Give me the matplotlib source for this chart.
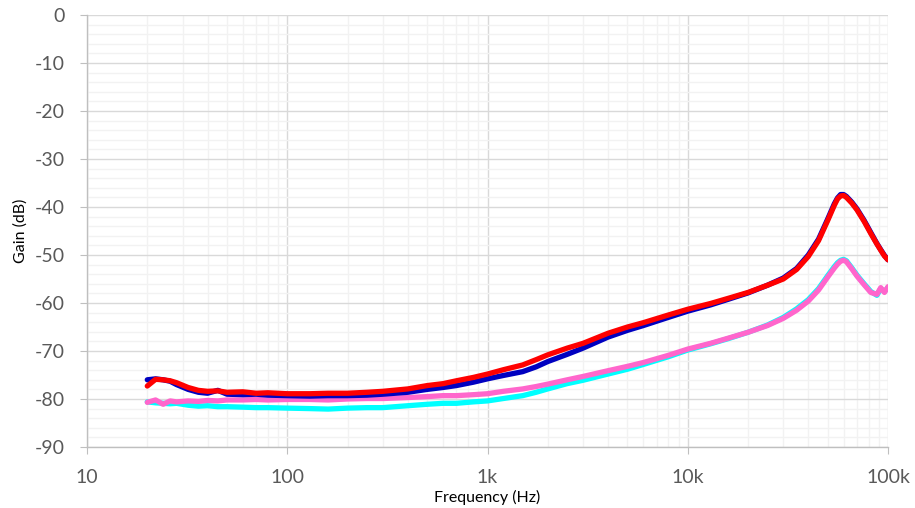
import matplotlib.pyplot as plt
from matplotlib.ticker import FixedLocator, NullFormatter

# frequency points (Hz)
freq = [20, 22, 24, 26, 28, 32, 36, 40, 45, 50, 60, 70, 80, 100, 130, 160, 200,
        250, 300, 400, 500, 600, 700, 850, 1000, 1200, 1500, 1750, 2000, 2500, 3000,
        4000, 5000, 6000, 8000, 10000, 13000, 16000, 20000, 25000, 30000, 35000,
        40000, 45000, 50000, 54000, 56000, 58000, 60000, 62000, 66000, 70000, 76000,
        82000, 88000, 92000, 96000, 100000]

# gain (dB) per trace
blue = [-76.0, -75.8, -76.0, -76.3, -77.0, -78.0, -78.6, -78.8, -78.2, -79.0, -79.1,
        -79.0, -79.2, -79.3, -79.4, -79.3, -79.3, -79.2, -79.0, -78.6, -78.0, -77.6,
        -77.2, -76.5, -75.8, -75.1, -74.3, -73.3, -72.2, -70.7, -69.4, -67.1, -65.7,
        -64.7, -63.0, -61.7, -60.4, -59.2, -57.9, -56.3, -54.8, -52.8, -50.0, -46.7,
        -42.5, -39.3, -38.1, -37.4, -37.4, -37.8, -39.0, -40.4, -42.8, -45.3, -47.6,
        -48.9, -50.1, -51.0]
red = [-77.3, -75.9, -76.0, -76.2, -76.6, -77.6, -78.2, -78.4, -78.3, -78.6, -78.5,
       -78.8, -78.7, -78.9, -78.9, -78.8, -78.8, -78.6, -78.4, -77.9, -77.2, -76.8,
       -76.2, -75.5, -74.8, -73.9, -72.9, -71.8, -70.8, -69.4, -68.4, -66.3, -65.0,
       -64.1, -62.5, -61.3, -60.1, -59.0, -57.8, -56.3, -55.0, -53.0, -50.3, -47.0,
       -42.8, -39.6, -38.3, -37.7, -37.6, -38.0, -39.2, -40.6, -43.0, -45.5, -47.7,
       -49.0, -50.2, -51.0]
cyan = [-80.6, -80.8, -80.9, -81.0, -80.9, -81.3, -81.5, -81.4, -81.6, -81.6, -81.7,
        -81.8, -81.8, -81.9, -82.0, -82.1, -81.9, -81.8, -81.8, -81.4, -81.1, -80.9,
        -80.9, -80.6, -80.4, -79.9, -79.3, -78.6, -77.9, -76.8, -76.1, -74.8, -73.8,
        -72.8, -71.2, -69.8, -68.5, -67.4, -66.1, -64.6, -63.0, -61.2, -59.3, -57.0,
        -54.3, -52.4, -51.6, -51.1, -50.9, -51.2, -52.7, -54.2, -56.0, -57.6, -58.4,
        -57.0, -57.6, -56.8]
pink = [-80.7, -80.2, -81.1, -80.4, -80.6, -80.4, -80.5, -80.3, -80.4, -80.2, -80.2,
        -80.1, -80.2, -80.1, -80.1, -80.2, -80.0, -79.9, -79.9, -79.7, -79.5, -79.3,
        -79.3, -79.1, -78.9, -78.4, -77.9, -77.4, -76.9, -76.0, -75.3, -74.1, -73.2,
        -72.4, -70.9, -69.6, -68.4, -67.3, -66.1, -64.7, -63.2, -61.5, -59.6, -57.3,
        -54.6, -52.7, -51.9, -51.3, -51.1, -51.4, -52.9, -54.4, -56.2, -57.8, -58.2,
        -56.8, -57.8, -56.6]

xticks = [10, 100, 1000, 10000, 100000]
xlabels = ["10", "100", "1k", "10k", "100k"]

plt.rcParams['font.family'] = ['Lato', 'DejaVu Sans']
plt.rcParams['axes.unicode_minus'] = False

fig = plt.figure(figsize=(9.15, 5.08), dpi=100)
ax = fig.add_axes([87 / 915, 1 - 447 / 508, 801 / 915, 432 / 508])

ax.plot(freq, cyan, color="#00ffff", lw=3.8, solid_capstyle="round", solid_joinstyle="round")
ax.plot(freq, pink, color="#ff66cc", lw=3.8, solid_capstyle="round", solid_joinstyle="round")
ax.plot(freq, blue, color="#0000c0", lw=3.8, solid_capstyle="round", solid_joinstyle="round")
ax.plot(freq, red, color="#ff0000", lw=3.8, solid_capstyle="round", solid_joinstyle="round")

ax.set_xscale("log")
ax.set_xlim(10, 100000)
ax.set_ylim(-90, 0)
ax.set_xticks(xticks)
ax.set_xticklabels(xlabels)
minor_x = [m * 10 ** d for d in range(1, 5) for m in range(2, 10)]
ax.xaxis.set_minor_locator(FixedLocator(minor_x))
ax.xaxis.set_minor_formatter(NullFormatter())
ax.set_yticks(range(-90, 1, 10))
ax.yaxis.set_minor_locator(FixedLocator(range(-88, 0, 2)))

ax.grid(which="minor", color="#f2f2f2", lw=1.0)
ax.grid(which="major", color="#d9d9d9", lw=1.0)
ax.set_axisbelow(True)

for s in ["top", "right"]:
    ax.spines[s].set_visible(False)
for s in ["left", "bottom"]:
    ax.spines[s].set_color("#bfbfbf")
    ax.spines[s].set_linewidth(1.0)

ax.tick_params(which="major", length=5, color="#bfbfbf", labelsize=14,
               labelcolor="#595959")
ax.tick_params(which="minor", length=0)
ax.tick_params(axis="x", pad=11)
ax.tick_params(axis="y", pad=11)

ax.set_xlabel("Frequency (Hz)", fontsize=11.5, color="#000000", labelpad=3)
ax.set_ylabel("Gain (dB)", fontsize=11.5, color="#000000", labelpad=5)

fig.savefig("out.png", dpi=100)
